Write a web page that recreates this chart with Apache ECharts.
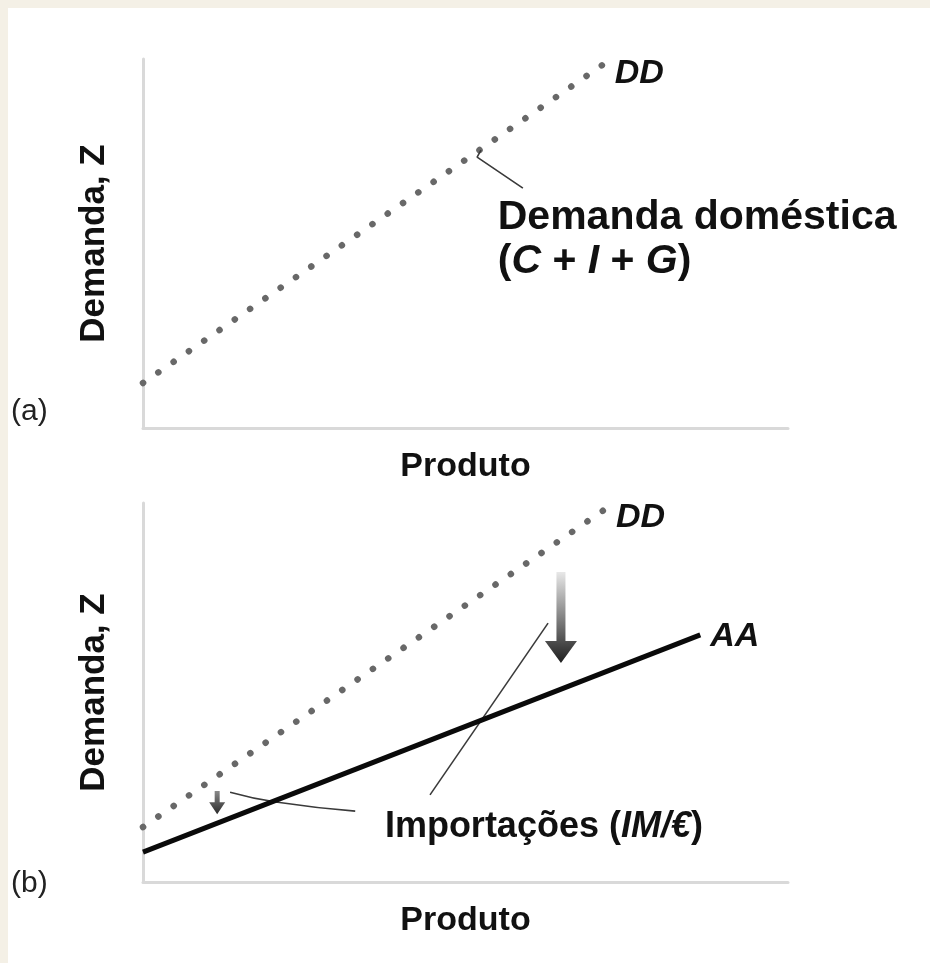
<!DOCTYPE html>
<html><head><meta charset="utf-8">
<script src="https://cdn.jsdelivr.net/npm/echarts@6/dist/echarts.min.js"></script>
<style>
html,body{margin:0;padding:0;background:#f4f0e6;}
#paper{position:absolute;left:8px;top:8px;width:922px;height:955px;background:#ffffff;}
#main{position:absolute;left:0;top:0;width:930px;height:963px;}
</style></head><body>
<div id="paper"></div><div id="main"></div>
<script>
// ---- Data (x: Produto 0-100, y: Demanda Z 0-100) ----
// Panel (a): domestic demand DD
const ddA = [[0, 12.2], [71.9, 99.2]];
// Panel (b): domestic demand DD and demand for domestic goods AA
const ddB = [[0, 14.5], [72.1, 98.9]];
const aaB = [[0, 7.9], [86.4, 65.2]];

// ---- Annotations (data coordinates) ----
const leaderA = [[52.4, 75.3], [51.8, 73.4], [58.9, 65.0]];
const leaderB1 = [[62.8, 68.3], [44.5, 23.0]];
const leaderB2 = [[13.5, 23.7], [20.6, 21.1], [32.9, 18.7]];
// arrows: [x, yStart, yTip]
const bigArrow = [[64.8, 81.8, 57.8]];
const smallArrow = [[11.5, 24.0, 17.9]];
const labelDomestic = [[55.0, 63.0]];
const labelImports = [[37.5, 14.5]];

const FONT = '"Liberation Sans", Arial, Helvetica, sans-serif';
const chart = echarts.init(document.getElementById('main'), null, {renderer: 'canvas'});

function axisX(gi) {
  return {
    type: 'value', gridIndex: gi, min: 0, max: 100,
    axisLine: {show: true, lineStyle: {color: '#d9d9d9', width: 3}},
    axisTick: {show: false}, axisLabel: {show: false}, splitLine: {show: false},
    name: 'Produto', nameLocation: 'middle', nameGap: 22,
    nameTextStyle: {fontFamily: FONT, fontWeight: 'bold', fontSize: 34, color: '#111'}
  };
}
function axisY(gi) {
  return {
    type: 'value', gridIndex: gi, min: 0, max: 100,
    axisLine: {show: true, lineStyle: {color: '#d9d9d9', width: 3}},
    axisTick: {show: false}, axisLabel: {show: false}, splitLine: {show: false},
    name: 'Demanda, Z', nameLocation: 'middle', nameGap: 31, nameRotate: 90,
    nameTextStyle: {fontFamily: FONT, fontWeight: 'bold', fontSize: 35, color: '#111'}
  };
}

const dotStyle = {color: '#686868', width: 6.5, type: [0.1, 18.5], cap: 'round'};

function arrowSeries(data, gi, w, h, L, c0, c1) {
  return {
    type: 'custom', xAxisIndex: gi, yAxisIndex: gi, data: data, silent: true, z: 5,
    renderItem: function (params, api) {
      const top = api.coord([api.value(0), api.value(1)]);
      const tip = api.coord([api.value(0), api.value(2)]);
      const x = top[0], hy = tip[1] - L;
      return {
        type: 'polygon',
        shape: {points: [[x - w, top[1]], [x + w, top[1]], [x + w, hy], [x + h, hy], [x, tip[1]], [x - h, hy], [x - w, hy]]},
        style: {fill: new echarts.graphic.LinearGradient(0, 0, 0, 1, [{offset: 0, color: c0}, {offset: 1, color: c1}])}
      };
    }
  };
}

function leader(data, gi, smooth) {
  return {type: 'line', xAxisIndex: gi, yAxisIndex: gi, data: data, symbol: 'none', smooth: smooth,
    lineStyle: {color: '#3a3a3a', width: 1.6}, silent: true, z: 3};
}

const endLbl = (txt, off) => ({
  show: true, formatter: txt, offset: off, color: '#111',
  fontFamily: FONT, fontWeight: 'bold', fontStyle: 'italic', fontSize: 34
});

function textSeries(data, gi, text, size, lh, vAlign) {
  return {
    type: 'scatter', xAxisIndex: gi, yAxisIndex: gi, data: data, symbolSize: 0,
    itemStyle: {color: '#111', opacity: 1}, silent: true, z: 6,
    label: {show: true, position: [0, 0], align: 'left', verticalAlign: vAlign,
      formatter: text, opacity: 1,
      fontFamily: FONT, fontWeight: 'bold', fontSize: size, color: '#111', lineHeight: lh,
      rich: {
        n: {fontFamily: FONT, fontWeight: 'bold', fontSize: size, color: '#111', lineHeight: lh},
        i: {fontFamily: FONT, fontWeight: 'bold', fontStyle: 'italic', fontSize: size, color: '#111', lineHeight: lh}
      }}
  };
}

chart.setOption({
  animation: false,
  backgroundColor: 'transparent',
  grid: [
    {left: 143, right: 142, top: 59, height: 369},
    {left: 143, right: 142, top: 503, height: 379}
  ],
  xAxis: [axisX(0), axisX(1)],
  yAxis: [axisY(0), axisY(1)],
  series: [
    {type: 'line', xAxisIndex: 0, yAxisIndex: 0, data: ddA, symbol: 'none', lineStyle: dotStyle,
      endLabel: endLbl('DD', [0, 12])},
    leader(leaderA, 0, false),
    textSeries(labelDomestic, 0, '{n|Demanda doméstica}\n{n|(}{i|C}{n| + }{i|I}{n| + }{i|G}{n|)}', 41, 44, 'top'),

    {type: 'line', xAxisIndex: 1, yAxisIndex: 1, data: ddB, symbol: 'none', lineStyle: dotStyle,
      endLabel: endLbl('DD', [0, 10])},
    {type: 'line', xAxisIndex: 1, yAxisIndex: 1, data: aaB, symbol: 'none',
      lineStyle: {color: '#0a0a0a', width: 5}, endLabel: endLbl('AA', [2, 2]), z: 4},
    leader(leaderB1, 1, false),
    leader(leaderB2, 1, true),
    arrowSeries(bigArrow, 1, 4.5, 16, 22, '#e8e8e8', '#1e1e1e'),
    arrowSeries(smallArrow, 1, 2.5, 8, 12, '#8a8a8a', '#2a2a2a'),
    textSeries(labelImports, 1, '{n|Importações (}{i|IM/€}{n|)}', 36, 40, 'middle')
  ],
  graphic: [
    {type: 'text', left: 11, top: 397, style: {text: '(a)', fontFamily: FONT, fontSize: 30, fill: '#222'}},
    {type: 'text', left: 11, top: 869, style: {text: '(b)', fontFamily: FONT, fontSize: 30, fill: '#222'}}
  ]
});
</script>
</body></html>
